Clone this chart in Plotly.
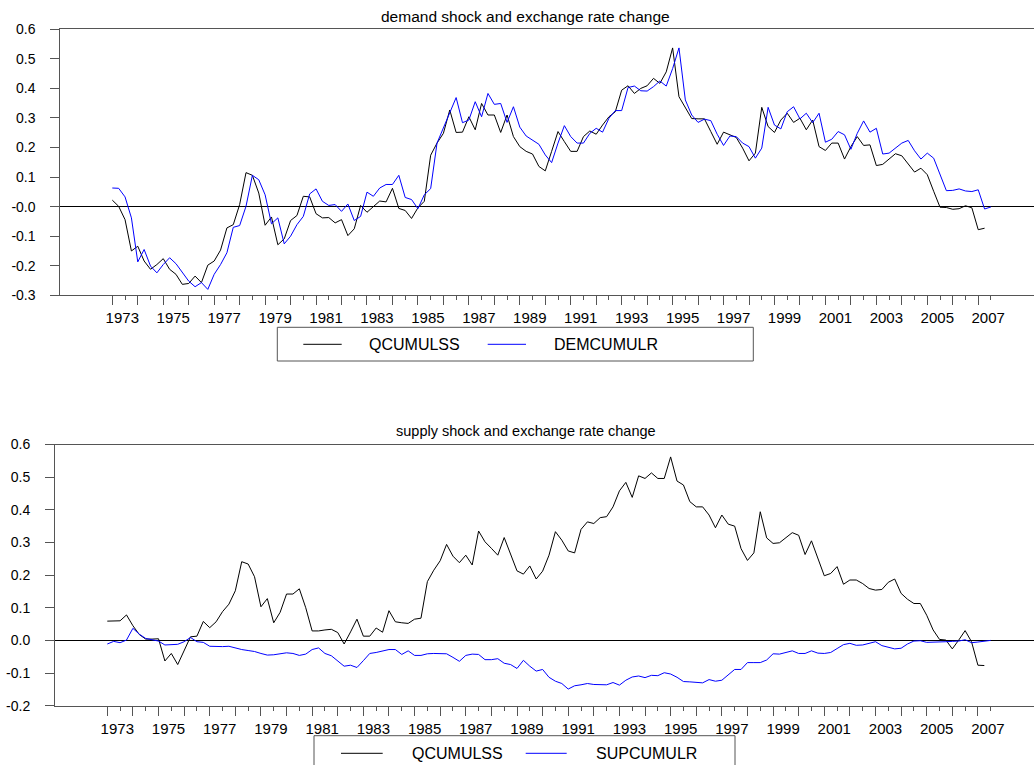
import pandas as pd
import plotly.graph_objects as go

W, H = 1034, 765

periods = pd.period_range("1973Q1", "2007Q3", freq="Q")
x_vals = [p.year + (p.quarter - 1) / 4 for p in periods]

# demand panel
dem_qcumulss = [
    0.022, 0.001, -0.044, -0.150, -0.134, -0.184, -0.212, -0.196, -0.176, -0.212,
    -0.229, -0.263, -0.260, -0.235, -0.257, -0.198, -0.184, -0.147, -0.072, -0.061,
    0.007, 0.115, 0.106, 0.046, -0.063, -0.035, -0.129, -0.109, -0.047, -0.030,
    0.035, 0.033, -0.024, -0.038, -0.037, -0.055, -0.044, -0.098, -0.075, 0.004,
    -0.019, 0.001, 0.019, 0.016, 0.062, -0.006, -0.013, -0.040, -0.004, 0.018,
    0.174, 0.215, 0.248, 0.327, 0.251, 0.252, 0.304, 0.260, 0.349, 0.310,
    0.310, 0.251, 0.310, 0.237, 0.203, 0.187, 0.178, 0.136, 0.121, 0.187,
    0.254, 0.220, 0.187, 0.187, 0.237, 0.256, 0.245, 0.276, 0.304, 0.321,
    0.394, 0.409, 0.383, 0.400, 0.409, 0.434, 0.417, 0.456, 0.537, 0.372,
    0.333, 0.298, 0.297, 0.297, 0.254, 0.211, 0.252, 0.243, 0.234, 0.198,
    0.155, 0.181, 0.336, 0.271, 0.251, 0.293, 0.316, 0.285, 0.299, 0.260,
    0.293, 0.203, 0.190, 0.215, 0.215, 0.161, 0.203, 0.237, 0.207, 0.209,
    0.139, 0.143, 0.162, 0.179, 0.172, 0.144, 0.117, 0.130, 0.108, 0.052,
    -0.002, -0.003, -0.009, -0.007, 0.003, -0.004, -0.078, -0.073, None,
]
demcumulr = [
    0.063, 0.062, 0.033, -0.038, -0.187, -0.145, -0.201, -0.224, -0.196, -0.173,
    -0.193, -0.224, -0.252, -0.271, -0.257, -0.280, -0.229, -0.196, -0.156, -0.070,
    -0.064, 0.001, 0.106, 0.091, 0.040, -0.058, -0.038, -0.126, -0.100, -0.061,
    -0.033, 0.043, 0.060, 0.018, 0.004, 0.007, -0.016, 0.009, -0.047, -0.033,
    0.049, 0.035, 0.063, 0.075, 0.075, 0.106, 0.031, 0.024, -0.007, 0.040,
    0.061, 0.215, 0.265, 0.321, 0.369, 0.284, 0.293, 0.355, 0.304, 0.383,
    0.346, 0.349, 0.285, 0.338, 0.269, 0.239, 0.224, 0.211, 0.175, 0.149,
    0.215, 0.274, 0.237, 0.215, 0.215, 0.248, 0.265, 0.252, 0.299, 0.325,
    0.325, 0.403, 0.408, 0.392, 0.391, 0.406, 0.425, 0.408, 0.467, 0.537,
    0.361, 0.310, 0.285, 0.296, 0.291, 0.245, 0.207, 0.239, 0.237, 0.215,
    0.203, 0.164, 0.198, 0.336, 0.276, 0.263, 0.321, 0.338, 0.297, 0.316,
    0.284, 0.316, 0.218, 0.228, 0.254, 0.243, 0.194, 0.248, 0.290, 0.252,
    0.265, 0.178, 0.181, 0.198, 0.215, 0.224, 0.189, 0.161, 0.181, 0.164,
    0.108, 0.054, 0.055, 0.060, 0.053, 0.051, 0.057, -0.008, -0.001,
]

# supply panel
sup_qcumulss = [
    0.059, 0.059, 0.060, 0.078, 0.045, 0.018, 0.004, 0.004, 0.005, -0.063,
    -0.040, -0.074, -0.030, 0.011, 0.013, 0.058, 0.039, 0.057, 0.088, 0.111,
    0.152, 0.241, 0.234, 0.195, 0.103, 0.128, 0.054, 0.086, 0.142, 0.142,
    0.158, 0.100, 0.029, 0.029, 0.032, 0.034, 0.024, -0.011, 0.026, 0.065,
    0.013, 0.013, 0.038, 0.025, 0.091, 0.057, 0.054, 0.052, 0.065, 0.068,
    0.180, 0.215, 0.244, 0.294, 0.258, 0.238, 0.261, 0.231, 0.335, 0.302,
    0.282, 0.261, 0.315, 0.266, 0.213, 0.203, 0.228, 0.188, 0.212, 0.261,
    0.333, 0.307, 0.274, 0.268, 0.340, 0.363, 0.358, 0.376, 0.379, 0.409,
    0.458, 0.484, 0.438, 0.504, 0.496, 0.513, 0.496, 0.496, 0.562, 0.488,
    0.476, 0.425, 0.409, 0.409, 0.384, 0.345, 0.384, 0.356, 0.350, 0.281,
    0.245, 0.268, 0.394, 0.314, 0.297, 0.299, 0.315, 0.330, 0.322, 0.263,
    0.305, 0.254, 0.198, 0.205, 0.226, 0.172, 0.185, 0.185, 0.174, 0.159,
    0.154, 0.156, 0.178, 0.188, 0.144, 0.126, 0.113, 0.113, 0.077, 0.032,
    0.003, 0.001, -0.026, 0.001, 0.030, -0.004, -0.076, -0.077, None,
]
supcumulr = [
    -0.011, -0.003, -0.007, 0.001, 0.037, 0.019, 0.006, 0.003, -0.002, -0.014,
    -0.012, -0.012, -0.004, 0.009, -0.004, -0.006, -0.018, -0.019, -0.019, -0.018,
    -0.024, -0.028, -0.031, -0.034, -0.040, -0.045, -0.044, -0.040, -0.038, -0.040,
    -0.046, -0.042, -0.028, -0.023, -0.040, -0.047, -0.062, -0.079, -0.076, -0.083,
    -0.062, -0.040, -0.037, -0.033, -0.028, -0.028, -0.043, -0.032, -0.046, -0.046,
    -0.041, -0.040, -0.041, -0.041, -0.052, -0.064, -0.046, -0.042, -0.043, -0.059,
    -0.059, -0.056, -0.070, -0.074, -0.086, -0.061, -0.079, -0.094, -0.089, -0.113,
    -0.125, -0.132, -0.149, -0.139, -0.136, -0.132, -0.135, -0.135, -0.136, -0.129,
    -0.137, -0.122, -0.112, -0.109, -0.114, -0.107, -0.108, -0.099, -0.103, -0.113,
    -0.126, -0.127, -0.129, -0.130, -0.120, -0.125, -0.122, -0.106, -0.089, -0.089,
    -0.068, -0.068, -0.068, -0.060, -0.041, -0.042, -0.037, -0.032, -0.040, -0.040,
    -0.032, -0.039, -0.040, -0.037, -0.025, -0.013, -0.009, -0.015, -0.014, -0.009,
    -0.004, -0.016, -0.021, -0.026, -0.024, -0.011, -0.002, -0.001, -0.006, -0.006,
    -0.006, -0.004, -0.003, -0.002, 0.002, -0.007, -0.005, -0.002, 0.000,
]

year_ticks = list(range(1973, 2008))
year_text = [str(y) if y % 2 == 1 else "" for y in year_ticks]
half_ticks = [y + 0.5 for y in year_ticks]

top_y_ticks = [-0.3, -0.2, -0.1, 0.0, 0.1, 0.2, 0.3, 0.4, 0.5, 0.6]
top_y_text = ["-0.3", "-0.2", "-0.1", "-0.0", "0.1", "0.2", "0.3", "0.4", "0.5", "0.6"]
bot_y_ticks = [-0.2, -0.1, 0.0, 0.1, 0.2, 0.3, 0.4, 0.5, 0.6]
bot_y_text = ["-0.2", "-0.1", "0.0", "0.1", "0.2", "0.3", "0.4", "0.5", "0.6"]

titles = ["demand shock and exchange rate change", "supply shock and exchange rate change"]
legend_top = ["QCUMULSS", "DEMCUMULR"]
legend_bot = ["QCUMULSS", "SUPCUMULR"]

BLACK = "#000000"
BLUE = "#0000ff"
AXC = "#555555"
FONT = "Liberation Sans, Arial, sans-serif"
X_RANGE = [1970.958, 2009.19]

fig = go.Figure()
fig.add_trace(go.Scatter(x=x_vals, y=dem_qcumulss, mode="lines", line=dict(color=BLACK, width=1),
                         xaxis="x", yaxis="y", showlegend=False))
fig.add_trace(go.Scatter(x=x_vals, y=demcumulr, mode="lines", line=dict(color=BLUE, width=1),
                         xaxis="x", yaxis="y", showlegend=False))
fig.add_trace(go.Scatter(x=x_vals, y=sup_qcumulss, mode="lines", line=dict(color=BLACK, width=1),
                         xaxis="x2", yaxis="y2", showlegend=False))
fig.add_trace(go.Scatter(x=x_vals, y=supcumulr, mode="lines", line=dict(color=BLUE, width=1),
                         xaxis="x2", yaxis="y2", showlegend=False))


def px_x(p):
    return p / W


def px_y(p):
    return 1 - p / H


def xaxis_def(left_px, anchor):
    return dict(
        domain=[px_x(left_px), 1.0], range=X_RANGE, anchor=anchor,
        showline=True, mirror=True, linecolor=AXC, linewidth=1,
        showgrid=False, zeroline=False,
        tickmode="array", tickvals=year_ticks, ticktext=year_text,
        ticks="outside", ticklen=9, tickcolor=AXC, tickwidth=1,
        ticklabelshift=10, ticklabelstandoff=0,
        minor=dict(tickmode="array", tickvals=half_ticks, ticks="outside", ticklen=4,
                   tickcolor=AXC, tickwidth=1, showgrid=False),
        tickfont=dict(family=FONT, size=15, color="#000"),
        automargin=False, fixedrange=True,
    )


def yaxis_def(dom, rng, tv, tt, anchor):
    return dict(
        domain=dom, range=rng, anchor=anchor,
        showline=True, mirror=False, linecolor=AXC, linewidth=1,
        showgrid=False, zeroline=True, zerolinecolor="#000", zerolinewidth=1,
        tickmode="array", tickvals=tv, ticktext=tt,
        ticks="outside", ticklen=9, tickcolor=AXC, tickwidth=1,
        ticklabelstandoff=12,
        tickfont=dict(family=FONT, size=14, color="#000"),
        automargin=False, fixedrange=True,
    )


fig.update_layout(
    width=W, height=H, autosize=False,
    margin=dict(l=0, r=0, t=0, b=0, pad=0),
    paper_bgcolor="white", plot_bgcolor="white",
    showlegend=False,
    xaxis=xaxis_def(60.3, "y"),
    yaxis=yaxis_def([px_y(295.3), px_y(29.3)], [-0.3, 0.6], top_y_ticks, top_y_text, "x"),
    xaxis2=xaxis_def(55.0, "y2"),
    yaxis2=yaxis_def([px_y(705.7), px_y(444.5)], [-0.2, 0.6], bot_y_ticks, bot_y_text, "x2"),
)

annotations = [
    dict(text=titles[0], x=px_x(525.5), y=px_y(16), xref="paper", yref="paper",
         xanchor="center", yanchor="middle", showarrow=False,
         font=dict(family=FONT, size=15.5, color="#000")),
    dict(text=titles[1], x=px_x(525.5), y=px_y(431), xref="paper", yref="paper",
         xanchor="center", yanchor="middle", showarrow=False,
         font=dict(family=FONT, size=14.5, color="#000")),
]
shapes = []

legend_specs = [
    # box left, right, top, bottom, line centre y, [ (line x0, x1, color, text, text left) ]
    (277.3, 753.3, 327.3, 361.0, 344.3,
     [(303.3, 341.7, BLACK, legend_top[0], 366.7), (487.7, 526.0, BLUE, legend_top[1], 551.7)]),
    (314.0, 735.0, 735.7, 771.0, 753.3,
     [(341.0, 382.7, BLACK, legend_bot[0], 410.0), (525.7, 566.7, BLUE, legend_bot[1], 594.3)]),
]
for bl, br, bt, bb, cy, items in legend_specs:
    shapes.append(dict(type="rect", xref="paper", yref="paper",
                       x0=px_x(bl), x1=px_x(br), y0=px_y(bb), y1=px_y(bt),
                       line=dict(color=AXC, width=1), fillcolor="rgba(0,0,0,0)"))
    for x0, x1, col, txt, tl in items:
        shapes.append(dict(type="line", xref="paper", yref="paper",
                           x0=px_x(x0), x1=px_x(x1), y0=px_y(cy), y1=px_y(cy),
                           line=dict(color=col, width=1)))
        annotations.append(dict(text=txt, x=px_x(tl), y=px_y(cy), xref="paper", yref="paper",
                                xanchor="left", yanchor="middle", showarrow=False,
                                font=dict(family=FONT, size=16, color="#000")))

fig.update_layout(annotations=annotations, shapes=shapes)
fig.write_html("out.html", include_plotlyjs=True, config={"displayModeBar": False})
